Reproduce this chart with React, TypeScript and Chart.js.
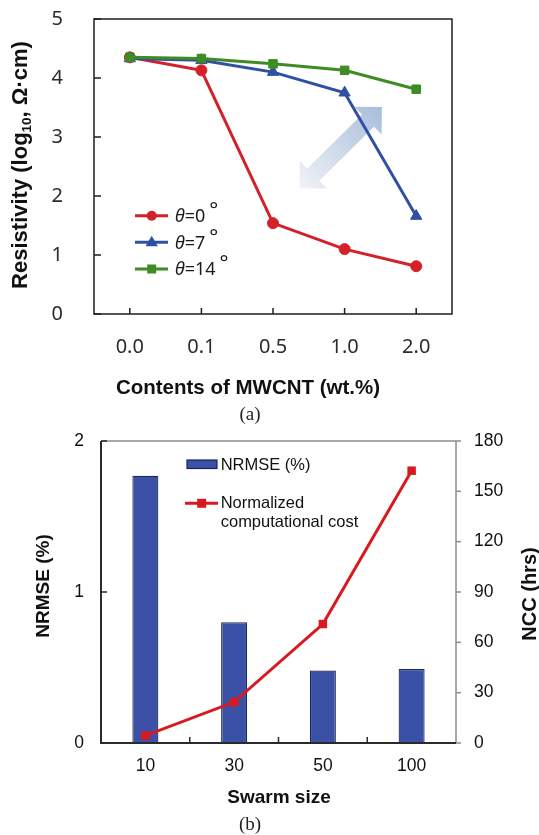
import React, { useEffect, useRef } from "react";
import { Chart, registerables } from "chart.js";

Chart.register(...registerables);

// ---------------- data (a) ----------------
const mwcntLabels = ["0.0", "0.1", "0.5", "1.0", "2.0"];
const theta0 = [4.35, 4.13, 1.54, 1.1, 0.81];
const theta7 = [4.33, 4.3, 4.1, 3.75, 1.66];
const theta14 = [4.35, 4.33, 4.24, 4.13, 3.81];
const thetaAngles = ["0", "7", "14"];
const resistivityRange = [0, 5];

// double arrow annotation endpoints: [category index, value]
const arrowFrom = [2.37, 2.13];
const arrowTo = [3.52, 3.51];

// ---------------- data (b) ----------------
const swarmLabels = ["10", "30", "50", "100"];
const nrmseValues = [1.77, 0.8, 0.48, 0.49];
const nccValues = [4.4, 24.4, 70.9, 162.3];
const nrmseRange = [0, 2];
const nccRange = [0, 180];

// ---------------- styles ----------------
const RED_A = "#d42129";
const BLUE_A = "#3050a4";
const GREEN_A = "#3f8b25";
const BAR_FILL = "#3a51a5";
const BAR_EDGE = "#1b2755";
const RED_B = "#d8191f";

const TICK_FONT_A = "'Noto Sans', 'DejaVu Sans', sans-serif";
const ARIAL = "'Liberation Sans', Arial, sans-serif";
const SERIF = "'Liberation Serif', 'Times New Roman', serif";

function line(ctx: CanvasRenderingContext2D, x1: number, y1: number, x2: number, y2: number) {
  ctx.beginPath();
  ctx.moveTo(x1, y1);
  ctx.lineTo(x2, y2);
  ctx.stroke();
}

function drawMarker(ctx: CanvasRenderingContext2D, shape: string, cx: number, cy: number, r: number, color: string) {
  ctx.fillStyle = color;
  ctx.beginPath();
  if (shape === "circle") {
    ctx.arc(cx, cy, r, 0, Math.PI * 2);
  } else if (shape === "triangle") {
    ctx.moveTo(cx, cy - r);
    ctx.lineTo(cx + r * 0.95, cy + r * 0.6);
    ctx.lineTo(cx - r * 0.95, cy + r * 0.6);
    ctx.closePath();
  } else {
    ctx.rect(cx - r, cy - r, 2 * r, 2 * r);
  }
  ctx.fill();
}

function fitY(width: number) {
  return (s: any) => {
    s.width = width;
    s.paddingTop = 0;
    s.paddingBottom = 0;
  };
}
function fitX(height: number) {
  return (s: any) => {
    s.height = height;
    s.paddingLeft = 0;
    s.paddingRight = 0;
  };
}

const decorA = {
  id: "decorA",
  beforeDatasetsDraw(chart: any) {
    const { ctx, scales } = chart;
    const xs = scales.x, ys = scales.y;
    const ax = xs.getPixelForValue(arrowFrom[0]);
    const ay = ys.getPixelForValue(arrowFrom[1]);
    const bx = xs.getPixelForValue(arrowTo[0]);
    const by = ys.getPixelForValue(arrowTo[1]);
    const dx = bx - ax, dy = by - ay;
    const L = Math.hypot(dx, dy);
    const ux = dx / L, uy = dy / L, nx = -uy, ny = ux;
    const h = 19.5, w = 19.5, s = 8.5;
    const pts = [
      [bx, by],
      [bx - ux * h + nx * w, by - uy * h + ny * w],
      [bx - ux * h + nx * s, by - uy * h + ny * s],
      [ax + ux * h + nx * s, ay + uy * h + ny * s],
      [ax + ux * h + nx * w, ay + uy * h + ny * w],
      [ax, ay],
      [ax + ux * h - nx * w, ay + uy * h - ny * w],
      [ax + ux * h - nx * s, ay + uy * h - ny * s],
      [bx - ux * h - nx * s, by - uy * h - ny * s],
      [bx - ux * h - nx * w, by - uy * h - ny * w],
    ];
    const g = ctx.createLinearGradient(ax, ay, bx, by);
    g.addColorStop(0, "#f1f3f7");
    g.addColorStop(1, "#a7bddb");
    ctx.save();
    ctx.fillStyle = g;
    ctx.beginPath();
    pts.forEach((p, i) => (i === 0 ? ctx.moveTo(p[0], p[1]) : ctx.lineTo(p[0], p[1])));
    ctx.closePath();
    ctx.fill();
    ctx.restore();
  },
  afterDraw(chart: any) {
    const { ctx, chartArea: ca, scales } = chart;
    const xs = scales.x, ys = scales.y;
    ctx.save();
    // frame
    ctx.strokeStyle = "#1e1e1e";
    ctx.lineWidth = 1.5;
    ctx.strokeRect(ca.left, ca.top, ca.right - ca.left, ca.bottom - ca.top);
    // inward ticks
    ys.ticks.forEach((t: any) => {
      const py = ys.getPixelForValue(t.value);
      line(ctx, ca.left, py, ca.left + 7, py);
    });
    xs.ticks.forEach((_t: any, i: number) => {
      const px = xs.getPixelForTick(i);
      line(ctx, px, ca.bottom, px, ca.bottom - 6);
    });

    // y title with subscript
    ctx.fillStyle = "#111";
    ctx.save();
    ctx.translate(19, 165);
    ctx.rotate(-Math.PI / 2);
    const fMain = `bold 22px ${ARIAL}`;
    const fSub = `bold 13.5px ${ARIAL}`;
    const p1 = "Resistivity (log";
    const p2 = "10";
    const p3 = ", \u03A9\u00B7cm)";
    ctx.font = fMain;
    const w1 = ctx.measureText(p1).width;
    const w3 = ctx.measureText(p3).width;
    ctx.font = fSub;
    const w2 = ctx.measureText(p2).width;
    const total = w1 + w2 + w3;
    let tx = -total / 2;
    const base = (0.716 * 22) / 2;
    ctx.textBaseline = "alphabetic";
    ctx.textAlign = "left";
    ctx.font = fMain;
    ctx.fillText(p1, tx, base);
    tx += w1;
    ctx.font = fSub;
    ctx.fillText(p2, tx, base + 4);
    tx += w2;
    ctx.font = fMain;
    ctx.fillText(p3, tx, base);
    ctx.restore();

    // x title
    ctx.font = `bold 20.5px ${ARIAL}`;
    ctx.textAlign = "center";
    ctx.textBaseline = "middle";
    ctx.fillText("Contents of MWCNT (wt.%)", 248, 388);

    // caption
    ctx.font = `19px ${SERIF}`;
    ctx.fillStyle = "#222";
    ctx.fillText("(a)", 250, 415);

    // legend
    const ds = chart.data.datasets;
    const rows = [215.7, 242.3, 269];
    const shapes = ["circle", "triangle", "rect"];
    const radii = [5, 6.5, 4.5];
    ds.forEach((d: any, i: number) => {
      const cy = rows[i];
      ctx.strokeStyle = d.borderColor;
      ctx.lineWidth = 3;
      line(ctx, 135, cy, 168, cy);
      drawMarker(ctx, shapes[i], 151.7, cy, radii[i], d.borderColor);
      ctx.fillStyle = "#1a1a1a";
      ctx.textAlign = "left";
      ctx.textBaseline = "alphabetic";
      const b = cy + 6.4;
      let lx = 175;
      ctx.font = `italic 18px ${TICK_FONT_A}`;
      ctx.fillText("\u03B8", lx, b);
      lx += ctx.measureText("\u03B8").width;
      ctx.font = `18px ${TICK_FONT_A}`;
      const s = "=" + thetaAngles[i];
      ctx.fillText(s, lx, b);
      lx += ctx.measureText(s).width + 4;
      ctx.font = `21px ${TICK_FONT_A}`;
      ctx.fillText("\u00B0", lx, b - 5);
    });
    ctx.restore();
  },
};

const decorB = {
  id: "decorB",
  afterDraw(chart: any) {
    const { ctx, chartArea: ca, scales } = chart;
    const xs = scales.x, ys = scales.y, y1 = scales.y1;
    ctx.save();
    // gray top + right axis
    ctx.strokeStyle = "#8c8c8c";
    ctx.lineWidth = 1.5;
    line(ctx, ca.left, ca.top, ca.right, ca.top);
    line(ctx, ca.right, ca.top, ca.right, ca.bottom);
    y1.ticks.forEach((t: any) => {
      const py = y1.getPixelForValue(t.value);
      line(ctx, ca.right, py, ca.right + 5, py);
    });
    // black left + bottom axis
    ctx.strokeStyle = "#2a2a2a";
    ctx.lineWidth = 2;
    line(ctx, ca.left, ca.top, ca.left, ca.bottom);
    line(ctx, ca.left - 1, ca.bottom, ca.right, ca.bottom);
    ctx.lineWidth = 1.5;
    ys.ticks.forEach((t: any) => {
      const py = ys.getPixelForValue(t.value);
      line(ctx, ca.left, py, ca.left + 6, py);
    });
    for (let i = 1; i < xs.ticks.length; i++) {
      const px = (xs.getPixelForTick(i - 1) + xs.getPixelForTick(i)) / 2;
      line(ctx, px, ca.bottom, px, ca.bottom - 6);
    }

    // titles
    ctx.fillStyle = "#111";
    ctx.textAlign = "center";
    ctx.textBaseline = "middle";
    ctx.font = `bold 19px ${ARIAL}`;
    ctx.save();
    ctx.translate(44, 166);
    ctx.rotate(-Math.PI / 2);
    ctx.fillText("NRMSE (%)", 0, 0);
    ctx.restore();
    ctx.save();
    ctx.font = `bold 20px ${ARIAL}`;
    ctx.translate(530, 174);
    ctx.rotate(-Math.PI / 2);
    ctx.fillText("NCC (hrs)", 0, 0);
    ctx.restore();
    ctx.fillText("Swarm size", 279, 378);

    // caption
    ctx.font = `19px ${SERIF}`;
    ctx.fillStyle = "#222";
    ctx.fillText("(b)", 250, 405);

    // legend
    const barDs = chart.data.datasets[1];
    const lineDs = chart.data.datasets[0];
    ctx.fillStyle = barDs.backgroundColor;
    ctx.fillRect(187, 40, 30, 8.5);
    ctx.strokeStyle = barDs.borderColor;
    ctx.lineWidth = 1.2;
    ctx.strokeRect(187, 40, 30, 8.5);
    ctx.strokeStyle = lineDs.borderColor;
    ctx.lineWidth = 3;
    line(ctx, 185, 83.3, 218, 83.3);
    drawMarker(ctx, "rect", 201.7, 83.3, 4.5, lineDs.borderColor);
    ctx.fillStyle = "#111";
    ctx.textAlign = "left";
    ctx.font = `16.5px ${ARIAL}`;
    ctx.fillText(barDs.label, 220.7, 45);
    ctx.fillText("Normalized", 220.7, 83);
    ctx.fillText("computational cost", 220.7, 102);
    ctx.restore();
  },
};

export default function App() {
  const refA = useRef<HTMLCanvasElement>(null);
  const refB = useRef<HTMLCanvasElement>(null);

  useEffect(() => {
    const chartA = new Chart(refA.current as HTMLCanvasElement, {
      type: "line",
      data: {
        labels: mwcntLabels,
        datasets: [
          {
            label: "\u03B8=0 \u00B0",
            data: theta0,
            borderColor: RED_A,
            backgroundColor: RED_A,
            borderWidth: 3,
            pointStyle: "circle",
            pointRadius: 5.5,
            pointBorderWidth: 1,
            tension: 0,
            order: 2,
          },
          {
            label: "\u03B8=7 \u00B0",
            data: theta7,
            borderColor: BLUE_A,
            backgroundColor: BLUE_A,
            borderWidth: 3,
            pointStyle: "triangle",
            pointRadius: 6.5,
            pointBorderWidth: 1,
            tension: 0,
            order: 1,
          },
          {
            label: "\u03B8=14 \u00B0",
            data: theta14,
            borderColor: GREEN_A,
            backgroundColor: GREEN_A,
            borderWidth: 3,
            pointStyle: "rect",
            pointRadius: 6,
            pointBorderWidth: 1,
            tension: 0,
            order: 0,
          },
        ],
      },
      options: {
        animation: false,
        responsive: false,
        devicePixelRatio: 1,
        layout: { padding: { top: 19, right: 87, left: 0, bottom: 0 } },
        plugins: { legend: { display: false }, tooltip: { enabled: false } },
        scales: {
          x: {
            offset: true,
            grid: { display: false, drawTicks: false },
            border: { display: false },
            ticks: { font: { family: TICK_FONT_A, size: 20 }, color: "#2b2b2b", padding: 21 },
            afterFit: fitX(116),
          },
          y: {
            min: resistivityRange[0],
            max: resistivityRange[1],
            grid: { display: false, drawTicks: false },
            border: { display: false },
            ticks: { stepSize: 1, font: { family: TICK_FONT_A, size: 20 }, color: "#2b2b2b", padding: 31 },
            afterFit: fitY(94),
          },
        },
      },
      plugins: [decorA],
    } as any);

    const chartB = new Chart(refB.current as HTMLCanvasElement, {
      type: "bar",
      data: {
        labels: swarmLabels,
        datasets: [
          {
            type: "line",
            label: "Normalized computational cost",
            data: nccValues,
            yAxisID: "y1",
            borderColor: RED_B,
            backgroundColor: RED_B,
            borderWidth: 3,
            pointStyle: "rect",
            pointRadius: 6,
            pointBorderWidth: 0,
            tension: 0,
            order: 0,
          },
          {
            type: "bar",
            label: "NRMSE (%)",
            data: nrmseValues,
            yAxisID: "y",
            backgroundColor: BAR_FILL,
            borderColor: BAR_EDGE,
            borderWidth: 1.2,
            barPercentage: 0.293,
            categoryPercentage: 1,
            order: 1,
          },
        ],
      },
      options: {
        animation: false,
        responsive: false,
        devicePixelRatio: 1,
        layout: { padding: { top: 21, right: 0, left: 0, bottom: 0 } },
        plugins: { legend: { display: false }, tooltip: { enabled: false } },
        scales: {
          x: {
            offset: true,
            grid: { display: false, drawTicks: false },
            border: { display: false },
            ticks: { font: { family: ARIAL, size: 17.5 }, color: "#111", padding: 12.5 },
            afterFit: fitX(92),
          },
          y: {
            position: "left",
            min: nrmseRange[0],
            max: nrmseRange[1],
            grid: { display: false, drawTicks: false },
            border: { display: false },
            ticks: { stepSize: 1, font: { family: ARIAL, size: 17.5 }, color: "#111", padding: 17 },
            afterFit: fitY(101),
          },
          y1: {
            position: "right",
            min: nccRange[0],
            max: nccRange[1],
            grid: { display: false, drawTicks: false },
            border: { display: false },
            ticks: { stepSize: 30, font: { family: ARIAL, size: 17.5 }, color: "#111", padding: 18 },
            afterFit: fitY(83),
          },
        },
      },
      plugins: [decorB],
    } as any);

    return () => {
      chartA.destroy();
      chartB.destroy();
    };
  }, []);

  return (
    <div style={{ position: "absolute", left: 0, top: 0, width: 539, height: 835, background: "#fff" }}>
      <canvas
        ref={refA}
        width={539}
        height={430}
        style={{ position: "absolute", left: 0, top: 0, width: 539, height: 430 }}
      />
      <canvas
        ref={refB}
        width={539}
        height={415}
        style={{ position: "absolute", left: 0, top: 420, width: 539, height: 415 }}
      />
    </div>
  );
}
